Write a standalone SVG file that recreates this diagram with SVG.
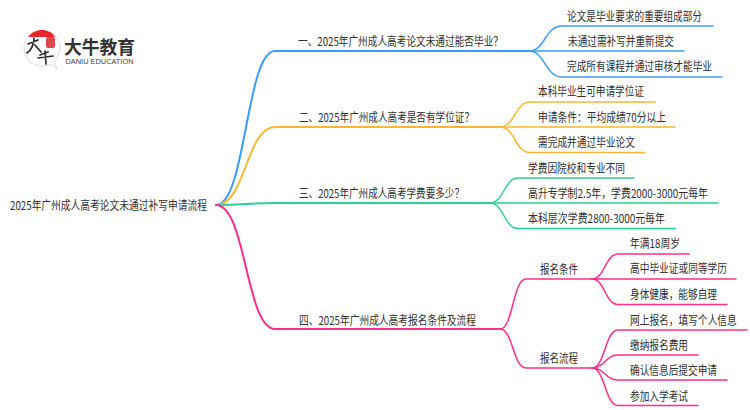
<svg xmlns="http://www.w3.org/2000/svg" width="750" height="410" viewBox="0 0 750 410">
<style>
text{font-family:"Noto Sans CJK SC","Liberation Sans",sans-serif;font-size:12px;fill:#2e2e2e}
.c{fill:none;stroke-width:1.5;stroke-linecap:round}
.t{stroke-width:2}
.b{stroke:#3a9bff}.y{stroke:#fbb731}.g{stroke:#2fd08f}.p{stroke:#ff2e8a}
</style>
<rect width="750" height="410" fill="#fff"/>
<g id="logo">
<path d="M42 30C31 30 24 39 24 48C24 58 32 66 42 66C46 66 49 65 51 64L57 69L54 61C58 57 60 53 60 48C60 38 52 30 42 30Z" fill="#fff" stroke="#ccc" stroke-width=".7"/>
<path d="M28 37C32 32 37 30 42 30C47 30 52 32 55 37Z" fill="#e8262a"/>
<rect x="46" y="37" width="9" height="11" rx="2" fill="#e0474a"/>
<path d="M28 44L38 40M34 38C34 46 31 50 27 53M35 45L41 52M40 55L48 52M38 58L53 56M45 51L46 64" fill="none" stroke="#2b2b2b" stroke-width="1.7" stroke-linecap="round"/>
<text x="64" y="54" textLength="71" lengthAdjust="spacingAndGlyphs" style="font-size:18px;font-weight:700;fill:#333">大牛教育</text>
<text x="65.500" y="63.500" textLength="68" lengthAdjust="spacingAndGlyphs" style="font-family:'Liberation Sans',sans-serif;font-size:7px;fill:#444">DANIU EDUCATION</text>
</g>
<g id="connectors">
<path class="c t b" d="M216 205C246 205 246 51 275 51H529"/>
<path class="c t y" d="M216 205C246 205 246 127 275 127H500"/>
<path class="c t g" d="M216 205C246 205 246 203 275 203H490"/>
<path class="c t p" d="M216 205C246 205 246 329 275 329H500"/>
<path class="c b" d="M529 51C545 51 545 26 562 26H713"/>
<path class="c b" d="M529 51H684"/>
<path class="c b" d="M529 51C545 51 545 77 562 77H722"/>
<path class="c y" d="M500 127C515 127 515 102 530 102H655"/>
<path class="c y" d="M500 127H675"/>
<path class="c y" d="M500 127C515 127 515 152.500 530 152.500H645"/>
<path class="c g" d="M490 203C504 203 504 178 518 178H634"/>
<path class="c g" d="M490 203H718"/>
<path class="c g" d="M490 203C504 203 504 228.500 518 228.500H675"/>
<path class="c p" d="M500 329C513 329 513 279 526 279H592"/>
<path class="c p" d="M500 329C513 329 513 368 526 368H592"/>
<path class="c p" d="M592 279C605 279 605 254 618 254H689"/>
<path class="c p" d="M592 279H736"/>
<path class="c p" d="M592 279C605 279 605 304.500 618 304.500H727"/>
<path class="c p" d="M592 368C605 368 605 330 618 330H747"/>
<path class="c p" d="M592 368C605 368 605 355 618 355H698"/>
<path class="c p" d="M592 368C605 368 605 380 618 380H727"/>
<path class="c p" d="M592 368C605 368 605 405.500 618 405.500H698"/>
</g>
<g id="root"><text x="10" y="209.500" textLength="197" lengthAdjust="spacingAndGlyphs">2025年广州成人高考论文未通过补写申请流程</text></g>
<g id="n1"><text x="298" y="45.500" textLength="205" lengthAdjust="spacingAndGlyphs">一、2025年广州成人高考论文未通过能否毕业？</text></g>
<g id="n1-1"><text x="567" y="20.500" textLength="135" lengthAdjust="spacingAndGlyphs">论文是毕业要求的重要组成部分</text></g>
<g id="n1-2"><text x="568" y="45.500" textLength="106" lengthAdjust="spacingAndGlyphs">未通过需补写并重新提交</text></g>
<g id="n1-3"><text x="567" y="70.500" textLength="145" lengthAdjust="spacingAndGlyphs">完成所有课程并通过审核才能毕业</text></g>
<g id="n2"><text x="299" y="121.500" textLength="175" lengthAdjust="spacingAndGlyphs">二、2025年广州成人高考是否有学位证？</text></g>
<g id="n2-1"><text x="538" y="95.500" textLength="106" lengthAdjust="spacingAndGlyphs">本科毕业生可申请学位证</text></g>
<g id="n2-2"><text x="538" y="121.500" textLength="128" lengthAdjust="spacingAndGlyphs">申请条件：平均成绩70分以上</text></g>
<g id="n2-3"><text x="538" y="146.500" textLength="97" lengthAdjust="spacingAndGlyphs">需完成并通过毕业论文</text></g>
<g id="n3"><text x="299" y="197.500" textLength="165" lengthAdjust="spacingAndGlyphs">三、2025年广州成人高考学费要多少？</text></g>
<g id="n3-1"><text x="528" y="172.500" textLength="97" lengthAdjust="spacingAndGlyphs">学费因院校和专业不同</text></g>
<g id="n3-2"><text x="528" y="197.500" textLength="180" lengthAdjust="spacingAndGlyphs">高升专学制2.5年，学费2000-3000元每年</text></g>
<g id="n3-3"><text x="528" y="222.500" textLength="137" lengthAdjust="spacingAndGlyphs">本科层次学费2800-3000元每年</text></g>
<g id="n4"><text x="299" y="324.500" textLength="177" lengthAdjust="spacingAndGlyphs">四、2025年广州成人高考报名条件及流程</text></g>
<g id="n4-a"><text x="540" y="273.500" textLength="38" lengthAdjust="spacingAndGlyphs">报名条件</text></g>
<g id="n4-a1"><text x="630" y="247.500" textLength="50" lengthAdjust="spacingAndGlyphs">年满18周岁</text></g>
<g id="n4-a2"><text x="630" y="272.500" textLength="97" lengthAdjust="spacingAndGlyphs">高中毕业证或同等学历</text></g>
<g id="n4-a3"><text x="630" y="298.500" textLength="87" lengthAdjust="spacingAndGlyphs">身体健康，能够自理</text></g>
<g id="n4-b"><text x="540" y="362.500" textLength="38" lengthAdjust="spacingAndGlyphs">报名流程</text></g>
<g id="n4-b1"><text transform="translate(630 324.500) scale(.81 1)">网上报名，填写个人信息</text></g>
<g id="n4-b2"><text x="630" y="349.500" textLength="58" lengthAdjust="spacingAndGlyphs">缴纳报名费用</text></g>
<g id="n4-b3"><text x="630" y="374.500" textLength="87" lengthAdjust="spacingAndGlyphs">确认信息后提交申请</text></g>
<g id="n4-b4"><text x="630" y="400.500" textLength="58" lengthAdjust="spacingAndGlyphs">参加入学考试</text></g>
</svg>
